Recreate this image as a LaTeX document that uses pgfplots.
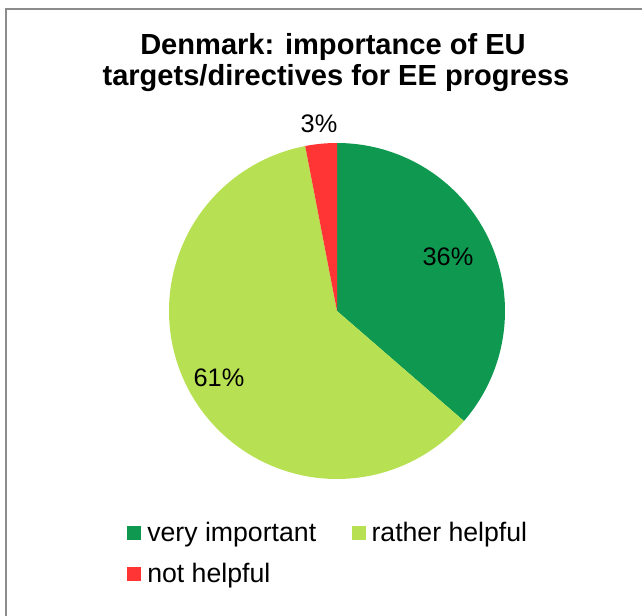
\documentclass[border=0pt]{standalone}
\usepackage{pgfplots}
\pgfplotsset{compat=1.18}
\usepackage{pgfplotstable}
\usepackage{fontspec}
\setmainfont{Liberation Sans}
\definecolor{cVery}{HTML}{0F9950}
\definecolor{cRather}{HTML}{B7E153}
\definecolor{cNot}{HTML}{FF3535}
\definecolor{cBorder}{HTML}{8C8C8C}
\pgfplotstableread{
cat n
very 12
rather 20
not 1
}\pietable

\begin{document}
\begin{tikzpicture}
\pgfplotstablegetelem{0}{n}\of\pietable \let\nA\pgfplotsretval
\pgfplotstablegetelem{1}{n}\of\pietable \let\nB\pgfplotsretval
\pgfplotstablegetelem{2}{n}\of\pietable \let\nC\pgfplotsretval
\pgfmathsetmacro\tot{\nA+\nB+\nC}
\pgfmathsetmacro\aA{90}
\pgfmathsetmacro\aB{90-360*\nA/\tot}
\pgfmathsetmacro\aC{\aB-360*\nB/\tot}
\pgfmathsetmacro\aD{\aC-360*\nC/\tot}
\begin{axis}[at={(0,0)}, anchor=origin, x=0.75pt, y=0.75pt,
  xmin=0, xmax=642, ymin=-616, ymax=0,
  hide axis, scale only axis, clip=false,
  legend columns=2, legend cell align=left,
  legend image code/.code={\fill[#1] (0pt,-5.25pt) rectangle (10.5pt,5.25pt);},
  legend style={draw=none, fill=none, at={(axis cs:127,-522)}, anchor=north west,
    font=\fontsize{20}{24}\selectfont, inner sep=0pt,
    nodes={inner sep=0pt}, column sep=4.5pt, row sep=14.5pt,
    /tikz/every even column/.append style={column sep=26.5pt}},
]
\addplot[fill=cVery, draw=none, domain=\aB:\aA, samples=90, variable=\t]
  ({337+168*cos(\t)}, {-311+168*sin(\t)}) -- (axis cs:337,-311) -- cycle;
\addlegendentry{very important}
\addplot[fill=cRather, draw=none, domain=\aC:\aB, samples=150, variable=\t]
  ({337+168*cos(\t)}, {-311+168*sin(\t)}) -- (axis cs:337,-311) -- cycle;
\addlegendentry{rather helpful}
\addplot[fill=cNot, draw=none, domain=\aD:\aC, samples=12, variable=\t]
  ({337+168*cos(\t)}, {-311+168*sin(\t)}) -- (axis cs:337,-311) -- cycle;
\addlegendentry{not helpful}
\node[font=\fontsize{19}{19}\selectfont] at (axis cs:448,-257) {36\%};
\node[font=\fontsize{19}{19}\selectfont] at (axis cs:219,-378) {61\%};
\node[font=\fontsize{19}{19}\selectfont] at (axis cs:319,-124) {3\%};
\node[font=\fontsize{21.8}{23}\selectfont\bfseries, anchor=base] at (axis cs:333,-55) {Denmark: importance of EU};
\node[font=\fontsize{21.8}{23}\selectfont\bfseries, anchor=base] at (axis cs:336,-86) {targets/directives for EE progress};
\draw[color=cBorder, line width=1.5pt] (axis cs:6,-620) -- (axis cs:6,-9) -- (axis cs:646,-9);
\end{axis}
\pgfresetboundingbox
\useasboundingbox (0,0) rectangle (481.5pt,-462pt);
\end{tikzpicture}
\end{document}
